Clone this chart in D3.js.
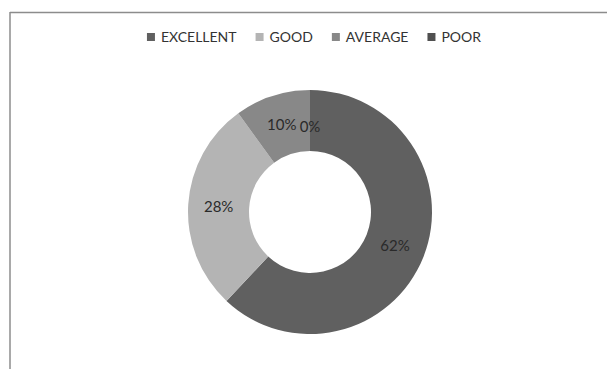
<!DOCTYPE html>
<html>
<head>
<meta charset="utf-8">
<script src="https://cdn.jsdelivr.net/npm/d3@7"></script>
<style>
  html, body { margin: 0; padding: 0; background: #fff; }
  svg { display: block; font-family: Lato, "Open Sans", sans-serif; }
</style>
</head>
<body>
<svg id="chart" width="607" height="369"></svg>
<script>
// Rating categories, their shares (%) and fill colours
const categories = ["EXCELLENT", "GOOD", "AVERAGE", "POOR"];
const shares = [62, 28, 10, 0];
const colors = ["#606060", "#b4b4b4", "#888888", "#505050"];

const svg = d3.select("#chart");
const W = 607, H = 369;

// Chart frame: top and left edges only
svg.append("line").attr("x1", 10).attr("y1", 12.5).attr("x2", W).attr("y2", 12.5)
  .attr("stroke", "#8c8c8c").attr("stroke-width", 1.5);
svg.append("line").attr("x1", 10).attr("y1", 12).attr("x2", 10).attr("y2", H)
  .attr("stroke", "#8c8c8c").attr("stroke-width", 1.5);

// Doughnut
const cx = 310, cy = 212, outerR = 122, innerR = 61;
const data = categories.map((c, i) => ({ cat: c, value: shares[i], color: colors[i] }));
const pie = d3.pie().sort(null).value(d => d.value);
const arc = d3.arc().innerRadius(innerR).outerRadius(outerR);
const arcs = pie(data);

const g = svg.append("g").attr("transform", `translate(${cx},${cy})`);
g.selectAll("path").data(arcs).join("path")
  .attr("d", arc)
  .attr("fill", d => d.data.color);

// Percentage labels at the ring midline; an empty slice's label sits just inside
g.selectAll("text.lbl").data(arcs).join("text")
  .attr("class", "lbl")
  .attr("transform", d => {
    let [x, y] = arc.centroid(d);
    if (d.data.value === 0) y += 6;
    return `translate(${x},${y})`;
  })
  .attr("text-anchor", "middle")
  .attr("dy", "0.35em")
  .attr("font-size", 15)
  .attr("fill", "#2a2a2a")
  .text(d => d.data.value + "%");

// Legend, centred above the doughnut
const legend = svg.append("g");
const items = legend.selectAll("g").data(data).join("g");
items.append("rect").attr("width", 8).attr("height", 8).attr("y", -9)
  .attr("fill", d => d.color);
items.append("text").attr("x", 14).attr("font-size", 14).attr("fill", "#333")
  .text(d => d.cat);
let x = 0;
const gap = 19;
items.each(function () {
  const w = 14 + d3.select(this).select("text").node().getComputedTextLength();
  d3.select(this).attr("transform", `translate(${x},0)`);
  x += w + gap;
});
const totalW = x - gap;
legend.attr("transform", `translate(${314 - totalW / 2},42)`);
</script>
</body>
</html>
